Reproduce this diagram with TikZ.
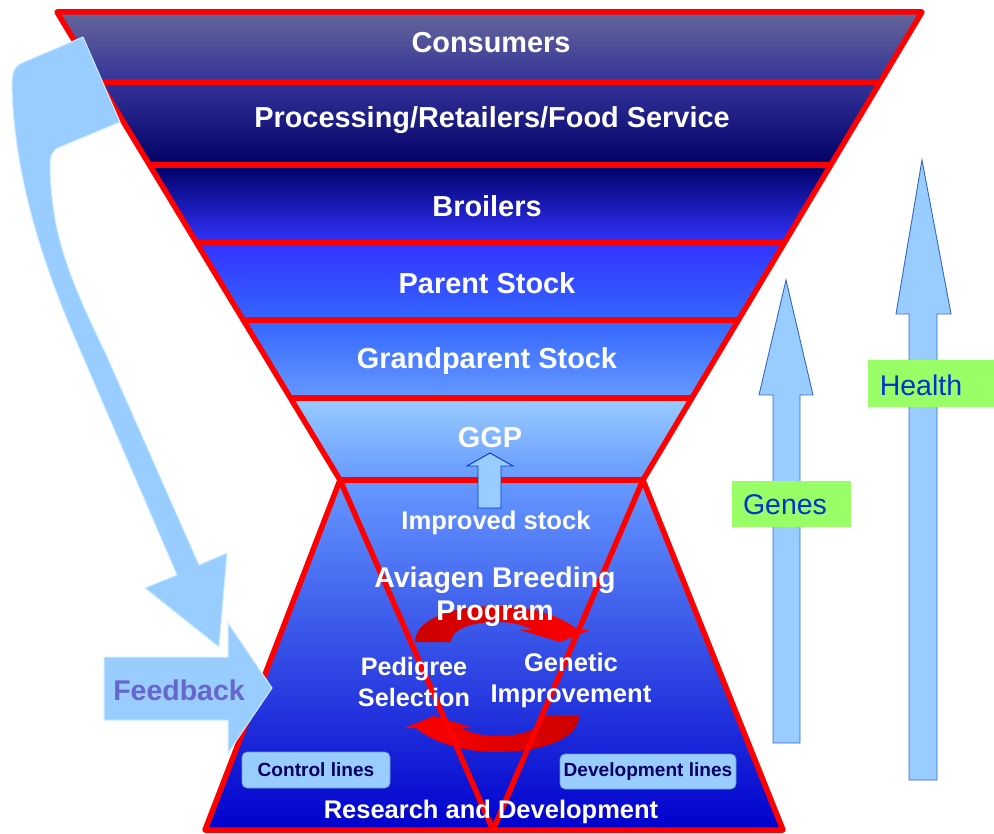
\documentclass[tikz,border=0pt]{standalone}
\usepackage{fontspec}
\setmainfont{Liberation Sans}
\definecolor{consA}{HTML}{666699}
\definecolor{consB}{HTML}{333399}
\definecolor{procB}{HTML}{000066}
\definecolor{broB}{HTML}{3333FF}
\definecolor{parB}{HTML}{3366FF}
\definecolor{grandB}{HTML}{6699FF}
\definecolor{ggpA}{HTML}{99CCFF}
\definecolor{lowB}{HTML}{0000CC}
\definecolor{arrdark}{HTML}{CC0000}
\definecolor{lightblue}{HTML}{99CCFF}
\definecolor{lightedge}{HTML}{CCEEFF}
\definecolor{arrowedge}{HTML}{3366CC}
\definecolor{navytext}{HTML}{000066}
\definecolor{labelgreen}{HTML}{99FF66}
\definecolor{labelblue}{HTML}{0033CC}
\definecolor{fbtext}{HTML}{6666CC}
\definecolor{boxedge}{HTML}{6699CC}
\tikzset{
  redline/.style={draw=red, line width=5.5pt, line join=round},
  bandlabel/.style={text=white, font=\fontsize{28.9}{30}\selectfont\bfseries, inner sep=0pt},
  innerlabel/.style={text=white, font=\fontsize{25.6}{31}\selectfont\bfseries, align=center, inner sep=0pt},
  linebox/.style={fill=lightblue, draw=boxedge, line width=0.6pt, rounded corners=5pt, text=navytext, font=\fontsize{19.1}{20}\selectfont\bfseries, inner sep=0pt},
  blockarrow/.style={fill=lightblue, draw=lightedge, line width=1pt, line join=miter},
  uparrow/.style={fill=lightblue, draw=arrowedge, line width=0.9pt},
  greenlabel/.style={fill=labelgreen, text=labelblue, font=\fontsize{28.5}{30}\selectfont, inner sep=0pt}
}
\begin{document}
\begin{tikzpicture}[x=1pt,y=-1pt]
\useasboundingbox (0,0) rectangle (994,834);
% funnel bands
\shade[top color=consA, bottom color=consB] (57,12) -- (922,12) -- (880.3,82) -- (99.4,82) -- cycle;
\shade[top color=consB, bottom color=procB] (99.4,82) -- (880.3,82) -- (830.8,165) -- (149.6,165) -- cycle;
\shade[top color=procB, bottom color=broB] (149.6,165) -- (830.8,165) -- (784.3,243) -- (196.8,243) -- cycle;
\shade[top color=broB, bottom color=parB] (196.8,243) -- (784.3,243) -- (738.4,320) -- (243.3,320) -- cycle;
\shade[top color=parB, bottom color=grandB] (243.3,320) -- (738.4,320) -- (691.9,398) -- (290.5,398) -- cycle;
\shade[top color=ggpA, bottom color=grandB] (290.5,398) -- (691.9,398) -- (643,480) -- (340,480) -- cycle;
\shade[top color=grandB, bottom color=lowB] (340,480) -- (643,480) -- (783,830) -- (205,830) -- cycle;
% cycle arrows
\shade[left color=arrdark, right color=red]
  (415,642) .. controls (415,620) and (450,606) .. (497,606)
  .. controls (530,606) and (560,615) .. (578,630)
  -- (590,630) -- (560,642) -- (520,630) -- (533,630)
  .. controls (521,624) and (510,622) .. (497,622)
  .. controls (470,622) and (451,630) .. (451,642) -- cycle;
\shade[left color=red, right color=arrdark]
  (579,716) .. controls (579,738) and (544,752) .. (497,752)
  .. controls (464,752) and (434,743) .. (416,728)
  -- (404,728) -- (434,716) -- (474,728) -- (461,728)
  .. controls (473,734) and (484,736) .. (497,736)
  .. controls (524,736) and (543,728) .. (543,716) -- cycle;
% red lines
\draw[redline] (99.4,82) -- (880.3,82);
\draw[redline] (149.6,165) -- (830.8,165);
\draw[redline] (196.8,243) -- (784.3,243);
\draw[redline] (243.3,320) -- (738.4,320);
\draw[redline] (290.5,398) -- (691.9,398);
\draw[redline] (340,480) -- (643,480);
\draw[redline] (340,480) -- (493,830) -- (643,480);
\draw[redline] (57,12) -- (922,12) -- (643,480) -- (783,830) -- (205,830) -- (340,480) -- cycle;
% small GGP arrow
\draw[uparrow, draw=labelblue] (478,508) -- (478,466) -- (467,466) -- (490,453) -- (513,466) -- (501,466) -- (501,508) -- cycle;
% labels
\node[bandlabel] (consumers) at (491,42.5) {Consumers};
\node[bandlabel] (processing) at (492,120) {Processing/Retailers/Food Service};
\node[bandlabel] (broilers) at (487,206) {Broilers};
\node[bandlabel] (parent) at (487,283.5) {Parent Stock};
\node[bandlabel] (grandparent) at (487,361) {Grandparent Stock};
\node[bandlabel] (ggp) at (490,437.5) {GGP};
\node[innerlabel] (improved) at (496,522.5) {Improved stock};
\node[innerlabel, font=\fontsize{28.5}{33}\selectfont\bfseries] (aviagen) at (495,597) {Aviagen Breeding\\Program};
\node[innerlabel, font=\fontsize{25.2}{31}\selectfont\bfseries] (pedigree) at (414,682) {Pedigree\\Selection};
\node[innerlabel] (genetic) at (571,680) {Genetic\\Improvement};
\node[innerlabel, font=\fontsize{25.5}{28}\selectfont\bfseries] (research) at (491,812) {Research and Development};
\node[linebox, minimum width=148pt, minimum height=36pt] (control) at (316,770) {Control lines};
\node[linebox, minimum width=176pt, minimum height=35pt] (development) at (648,771.5) {Development lines};
% feedback arrows
\draw[blockarrow] (104,657) -- (228,657) -- (228,623) -- (272,688) -- (228,753) -- (228,720) -- (104,720) -- cycle;
\node[text=fbtext, font=\fontsize{28.5}{30}\selectfont\bfseries, inner sep=0pt] (feedback) at (179,690) {Feedback};
\draw[blockarrow, line join=round]
  (83,37) -- (24,62) .. controls (14,66) and (12,72) .. (12,85)
  .. controls (14,180) and (45,270) .. (80,350) -- (177,575)
  -- (145,588) -- (219,647) -- (227,553) -- (199,565) -- (105,352)
  .. controls (65,270) and (52,230) .. (50,168)
  .. controls (50,155) and (52,150) .. (60,147) -- (120,122) -- cycle;
% genes and health arrows
\draw[uparrow] (773,743) -- (773,395) -- (759,395) -- (786,280) -- (813,395) -- (800,395) -- (800,743) -- cycle;
\draw[uparrow] (909,780) -- (909,314) -- (896,314) -- (922,160) -- (951,314) -- (937,314) -- (937,780) -- cycle;
\node[greenlabel, minimum width=119pt, minimum height=46pt] (genesbox) at (791.5,504) {};
\node[greenlabel] (genes) at (785,505) {Genes};
\node[greenlabel, minimum width=126pt, minimum height=47pt] (healthbox) at (931,383.5) {};
\node[greenlabel] (health) at (921,385) {Health};
\end{tikzpicture}
\end{document}
